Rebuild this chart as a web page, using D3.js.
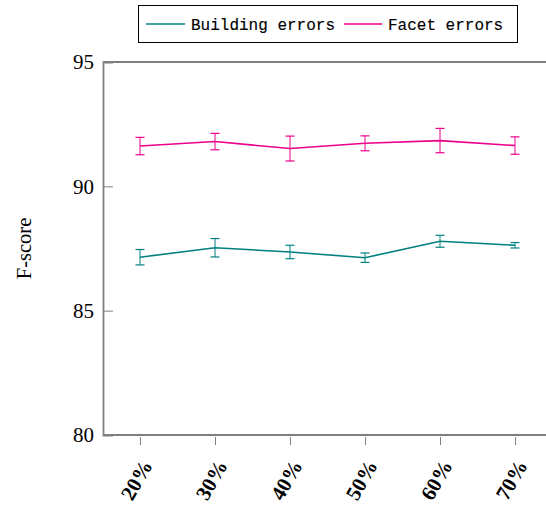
<!DOCTYPE html>
<html><head><meta charset="utf-8">
<script src="https://cdn.jsdelivr.net/npm/d3@7"></script>
<style>body{margin:0;background:#fff}svg{display:block}</style>
</head><body>
<svg id="c" width="546" height="508"></svg>
<script>
const categories = ["20%","30%","40%","50%","60%","70%"];
const buildingValues = [87.15, 87.53, 87.36, 87.13, 87.79, 87.63];
const buildingErrors = [0.31, 0.37, 0.27, 0.19, 0.24, 0.11];
const facetValues = [91.62, 91.80, 91.52, 91.73, 91.84, 91.64];
const facetErrors = [0.35, 0.33, 0.50, 0.30, 0.49, 0.35];
const yTicks = [80, 85, 90, 95];
const seriesNames = ["Building errors", "Facet errors"];
const seriesColors = ["#008080", "#ec008c"];

(function () {
const svg = d3.select("#c");
const pL = 103, pR = 546, pT = 62, pB = 435;
const x = d3.scalePoint().domain(categories).range([140, 515]);
const y = d3.scaleLinear().domain([80, 95]).range([pB, pT]);

// frame
svg.append("line").attr("x1", pL).attr("x2", pR).attr("y1", pT).attr("y2", pT)
  .attr("stroke", "#000").attr("stroke-width", 1);
svg.append("line").attr("x1", pL).attr("x2", pR).attr("y1", pB).attr("y2", pB)
  .attr("stroke", "#000").attr("stroke-width", 1.2);

// y axis
const yAxis = svg.append("g").attr("transform", `translate(${pL},0)`)
  .call(d3.axisLeft(y).tickValues(yTicks).tickSize(-10).tickPadding(20).tickFormat(d3.format("d")));
yAxis.select(".domain").attr("stroke", "#808080").attr("stroke-width", 1.8);
yAxis.selectAll(".tick line").attr("stroke", "#808080");
yAxis.selectAll(".tick text").attr("font-family", "'Liberation Serif', serif").attr("font-size", 21)
  .attr("fill", "#000").attr("x", -9).attr("text-anchor", "end");

// x axis
const xAxis = svg.append("g").attr("transform", `translate(0,${pB})`)
  .call(d3.axisBottom(x).tickSize(0).tickFormat(""));
xAxis.select(".domain").remove();
xAxis.selectAll(".tick line").attr("y1", 2).attr("y2", 10).attr("stroke", "#808080");
svg.append("g").selectAll("text").data(categories).join("text")
  .attr("transform", d => `translate(${x(d) + 9},${pB + 28}) rotate(-60)`)
  .attr("text-anchor", "end").attr("dominant-baseline", "middle")
  .attr("font-family", "'Liberation Serif', serif").attr("font-weight", "bold").attr("font-size", 21)
  .text(d => d);

// y label
svg.append("text").attr("transform", `translate(31,${(pT + pB) / 2}) rotate(-90)`)
  .attr("text-anchor", "middle").attr("font-family", "'Liberation Serif', serif").attr("font-size", 20.5)
  .text("F-score");

// series
const series = [
  {name: seriesNames[0], color: seriesColors[0], values: buildingValues, errors: buildingErrors},
  {name: seriesNames[1], color: seriesColors[1], values: facetValues, errors: facetErrors}
];
const line = d3.line().x((d, i) => x(categories[i])).y(d => y(d));
series.forEach(s => {
  const g = svg.append("g");
  g.append("path").attr("d", line(s.values)).attr("fill", "none").attr("stroke", s.color).attr("stroke-width", 1.6);
  const eb = g.selectAll("g.eb").data(s.values).join("g");
  eb.append("line").attr("x1", (d, i) => x(categories[i])).attr("x2", (d, i) => x(categories[i]))
    .attr("y1", (d, i) => y(d + s.errors[i])).attr("y2", (d, i) => y(d - s.errors[i]))
    .attr("stroke", s.color).attr("stroke-width", 1);
  [1, -1].forEach(sg => {
    eb.append("line").attr("x1", (d, i) => x(categories[i]) - 4.5).attr("x2", (d, i) => x(categories[i]) + 4.5)
      .attr("y1", (d, i) => y(d + sg * s.errors[i])).attr("y2", (d, i) => y(d + sg * s.errors[i]))
      .attr("stroke", s.color).attr("stroke-width", 1.2);
  });
});

// legend
const lg = svg.append("g");
lg.append("rect").attr("x", 138.5).attr("y", 5.5).attr("width", 379).attr("height", 37)
  .attr("fill", "#fff").attr("stroke", "#000").attr("stroke-width", 1);
const legendX = [[146, 185, 191], [344, 382, 388]];
series.forEach((s, i) => {
  lg.append("line").attr("x1", legendX[i][0]).attr("x2", legendX[i][1]).attr("y1", 24).attr("y2", 24)
    .attr("stroke", s.color).attr("stroke-width", 1.6);
  lg.append("text").attr("x", legendX[i][2]).attr("y", 29.5)
    .attr("font-family", "'Liberation Mono', monospace").attr("font-size", 16)
    .attr("stroke", "#000").attr("stroke-width", 0.15)
    .text(s.name);
});
})();
</script>
</body></html>
